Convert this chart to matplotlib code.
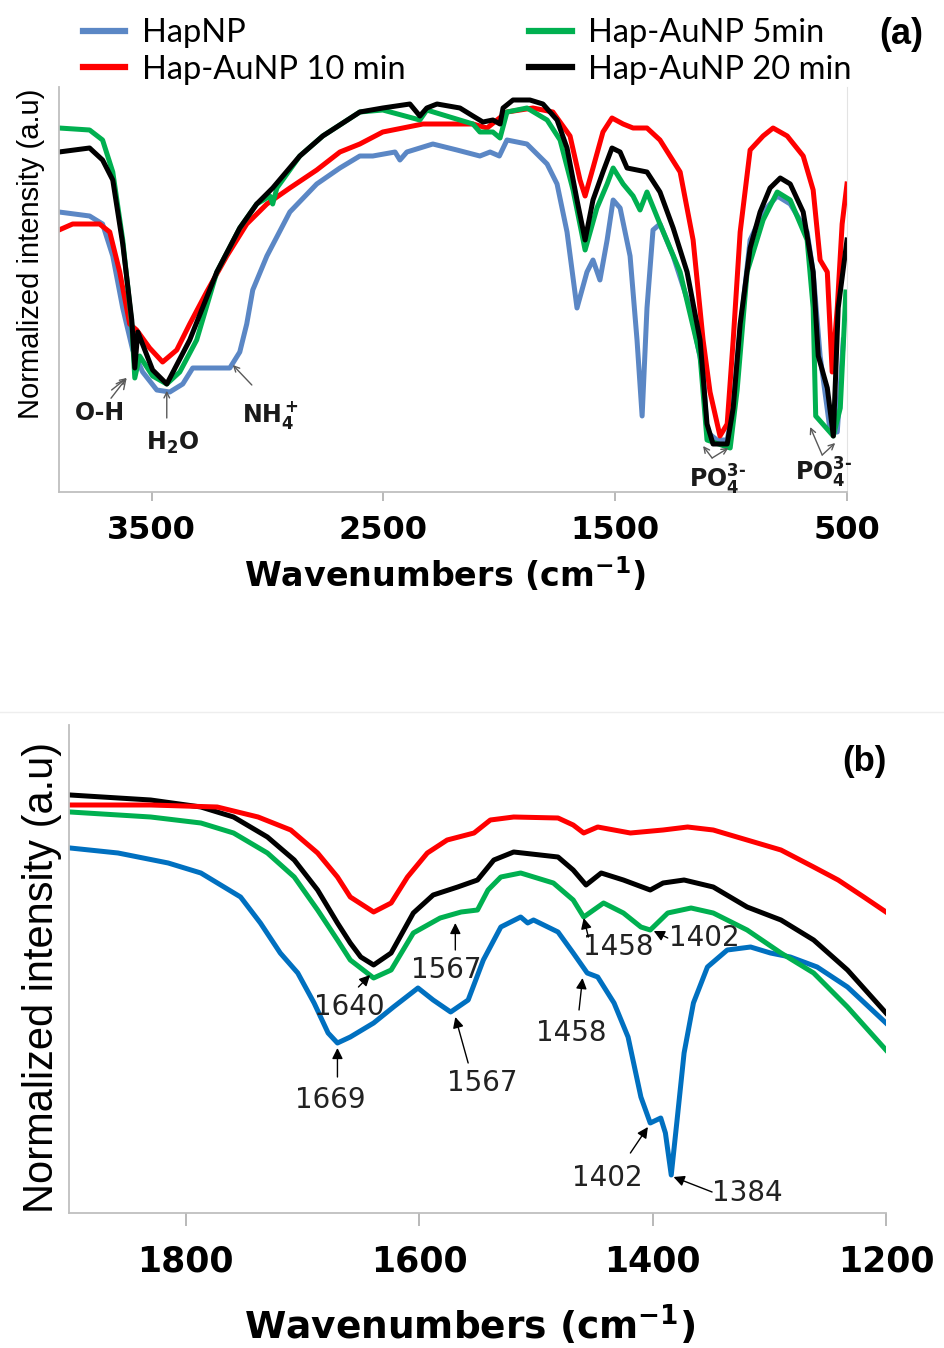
import numpy as np
import matplotlib
matplotlib.use("Agg")
import matplotlib.pyplot as plt
from matplotlib.lines import Line2D

plt.rcParams["font.family"] = ["DejaVu Sans"]
plt.rcParams["mathtext.default"] = "regular"

# ---- panel (a): full range FTIR spectra (wavenumber, normalized intensity a.u.)
hap_a_wn = [3900, 3768, 3712, 3668, 3625, 3582, 3539, 3478, 3422, 3366, 3323, 3237, 3163, 3120,
            3090, 3064, 3003, 2904, 2788, 2688, 2602, 2546, 2450, 2429, 2399, 2287, 2183, 2084,
            2040, 2000, 1967, 1881, 1794, 1751, 1708, 1665, 1622, 1596, 1566, 1535, 1509, 1479,
            1436, 1406, 1384, 1363, 1337, 1307, 1250, 1177, 1121, 1104, 1061, 1017, 991, 961,
            918, 862, 801, 745, 672, 646, 616, 572, 542, 516]
hap_a_I = [70, 69, 67, 59, 46, 35.5, 30, 25.5, 25, 27, 31, 31, 31, 35,
           42, 50.5, 59, 70, 77, 81, 84, 84, 85, 83, 85, 87, 85.5, 84,
           85, 84, 88, 87, 82, 77, 65, 46, 55, 58, 53, 63, 73, 71,
           59, 38, 19, 46, 65.5, 67, 59, 46, 30, 15, 13, 13, 21, 40.5,
           63, 70, 74, 72, 65, 55, 34, 15, 15, 38]

m5_a_wn = [3900, 3768, 3712, 3668, 3625, 3586, 3573, 3552, 3496, 3435, 3379, 3306, 3219, 3120,
           3047, 2990, 2978, 2960, 2861, 2762, 2602, 2503, 2343, 2313, 2114, 2084, 2028, 1997,
           1967, 1881, 1794, 1738, 1682, 1630, 1579, 1535, 1509, 1466, 1423, 1393, 1363, 1307,
           1220, 1134, 1104, 1004, 974, 931, 862, 801, 745, 672, 646, 635, 559, 529, 505]
m5_a_I = [91, 90.5, 88, 80, 63, 42, 28.5, 34, 29, 27, 30, 38, 55, 66,
          72, 74, 72, 76, 84, 89, 95, 95.5, 93, 95.5, 92, 90, 90, 88.5,
          95, 96, 93, 88, 75.5, 60.5, 71, 77, 81, 77, 74, 70.5, 75, 67,
          55, 34, 13, 11, 25.5, 55, 68, 75, 73, 63, 46, 19, 14, 21, 50]

m10_a_wn = [3900, 3841, 3725, 3681, 3638, 3595, 3565, 3509, 3453, 3392, 3336, 3263, 3176, 3090,
            3003, 2904, 2788, 2688, 2602, 2503, 2330, 2114, 2053, 1967, 1855, 1769, 1695, 1652,
            1630, 1596, 1553, 1514, 1466, 1423, 1363, 1307, 1220, 1164, 1121, 1091, 1048, 1017,
            991, 961, 918, 862, 819, 758, 689, 646, 616, 585, 564, 542, 521, 500]
m10_a_I = [65.5, 67, 67, 65, 55, 42, 40.5, 36, 32.5, 35.5, 42, 50, 59, 67,
           72, 76, 80.5, 85, 87, 90, 92, 92, 91, 95, 96, 95, 89, 78,
           74, 81, 90, 93.5, 92, 91, 91, 88, 80, 63, 38, 25, 14, 17,
           38, 65, 85.5, 89, 91, 89, 84, 75.5, 58, 55, 30, 46, 67, 77]

m20_a_wn = [3900, 3768, 3712, 3668, 3625, 3586, 3573, 3560, 3496, 3435, 3336, 3219, 3120, 3047,
            2978, 2861, 2762, 2602, 2503, 2386, 2343, 2313, 2269, 2170, 2114, 2071, 2028, 1997,
            1984, 1941, 1868, 1812, 1751, 1708, 1665, 1630, 1596, 1553, 1514, 1479, 1449, 1406,
            1363, 1307, 1250, 1190, 1134, 1104, 1078, 1017, 991, 961, 918, 875, 832, 788,
            745, 689, 646, 624, 585, 559, 538, 500]
m20_a_I = [85, 86, 83, 78, 62, 43, 31, 40, 30.5, 27, 38, 55, 66, 72,
           76, 84, 89, 95, 96, 97, 94, 96, 97, 96, 94, 92.5, 93, 92,
           96, 98, 98, 97, 93, 86, 73, 63, 73, 80, 86, 85, 81, 80.5,
           80, 75, 66, 55, 38, 17, 12, 12, 21, 42, 61, 70, 76, 78.5,
           77, 70, 55, 34, 26, 14, 46, 63]

# ---- panel (b): 1900-1200 cm-1 detail
hap_b_wn = [1899, 1858, 1815, 1787, 1770, 1753, 1736, 1719, 1704, 1690, 1678, 1670, 1659, 1639,
            1622, 1601, 1588, 1573, 1558, 1545, 1530, 1513, 1507, 1502, 1481, 1468, 1456, 1447,
            1433, 1421, 1410, 1402, 1393, 1389, 1384, 1379, 1373, 1365, 1353, 1336, 1316, 1299,
            1282, 1259, 1233, 1200]
hap_b_I = [73, 72, 70, 68, 65.6, 63.2, 58, 52, 48, 42, 36, 34, 35.2, 38,
           41.2, 45, 42.6, 40.2, 42.6, 50.6, 57.2, 59.2, 58, 58.6, 56.2, 52, 48, 47.2,
           42, 35.2, 23.2, 18, 19, 16, 7.6, 18.6, 32, 42, 49.2, 52.6, 53.2, 52,
           51.2, 49.2, 45.2, 38]

m5_b_wn = [1899, 1830, 1787, 1759, 1730, 1707, 1687, 1670, 1659, 1639, 1624, 1605, 1582, 1564,
           1550, 1541, 1530, 1513, 1485, 1468, 1459, 1442, 1425, 1410, 1402, 1387, 1367, 1348,
           1319, 1290, 1262, 1233, 1200]
m5_b_I = [80.2, 79.2, 78, 76, 72, 67.2, 60.6, 54.6, 50.6, 47, 48.6, 56, 59, 60.2,
          60.6, 64.6, 67.2, 68, 66, 62.6, 59.2, 62, 60, 57.2, 56.6, 60, 61, 60,
          56.6, 52, 48, 41.2, 32.6]

m10_b_wn = [1899, 1830, 1773, 1738, 1710, 1687, 1670, 1659, 1639, 1624, 1610, 1593, 1576, 1553,
            1539, 1519, 1481, 1468, 1459, 1447, 1419, 1391, 1370, 1348, 1319, 1290, 1262, 1241,
            1219, 1200]
m10_b_I = [81.6, 81.6, 81.2, 79.2, 76.6, 72, 67.2, 63.2, 60.2, 62, 67.2, 72, 74.6, 76,
           78.6, 79.2, 79, 77.6, 76, 77.2, 76, 76.6, 77.2, 76.6, 74.6, 72.6, 69.2, 66.6,
           63.2, 60.2]

m20_b_wn = [1899, 1830, 1787, 1759, 1730, 1707, 1687, 1670, 1659, 1650, 1639, 1624, 1605, 1588,
            1567, 1550, 1536, 1519, 1481, 1468, 1457, 1444, 1425, 1402, 1391, 1373, 1348, 1319,
            1290, 1262, 1233, 1200]
m20_b_I = [83.6, 82.6, 81.2, 79.2, 75.2, 70.6, 64.6, 58, 54, 51.2, 49.6, 52, 60, 63.6,
           65.2, 66.6, 70.6, 72.2, 71.2, 68.6, 65.6, 68, 66.6, 64.6, 66, 66.6, 65.2, 61.2,
           58.6, 54.6, 48.6, 40]

LABELS = ["HapNP", "Hap-AuNP 10 min", "Hap-AuNP 5min", "Hap-AuNP 20 min"]
RED, GREEN, BLACK = "#FF0000", "#00B050", "#000000"
BLUE_A, BLUE_B = "#5B87C5", "#0070C0"
SPINE = "#BFBFBF"
W, H = 945, 1348


def fx(px):
    return px / W


def fy(py):
    return 1 - py / H


def style_axis(ax, right=False):
    for s in ["top", "right"]:
        ax.spines[s].set_visible(False)
    if right:
        ax.spines["right"].set_visible(True)
        ax.spines["right"].set_color("#E3E3E3")
    for s in ["left", "bottom"]:
        ax.spines[s].set_color(SPINE)
        ax.spines[s].set_linewidth(1.3)
    ax.set_yticks([])


fig = plt.figure(figsize=(W / 100, H / 100), dpi=100)

# ---------------- panel (a)
ax = fig.add_axes([fx(59), fy(492), fx(847) - fx(59), fy(87) - fy(492)])
lw = 3.6
ax.plot(hap_a_wn, hap_a_I, color=BLUE_A, lw=lw, solid_joinstyle="round")
ax.plot(m10_a_wn, m10_a_I, color=RED, lw=lw, solid_joinstyle="round")
ax.plot(m5_a_wn, m5_a_I, color=GREEN, lw=lw, solid_joinstyle="round")
ax.plot(m20_a_wn, m20_a_I, color=BLACK, lw=lw, solid_joinstyle="round")
ax.set_xlim(3900, 500)
ax.set_ylim(0, 101.25)
style_axis(ax, right=True)
ax.set_xticks([3500, 2500, 1500, 500])
ax.tick_params(axis="x", direction="out", length=6.5, width=1.1, color="#A6A6A6", pad=10)
for t in ax.get_xticklabels():
    t.set_fontsize(23); t.set_fontweight("bold")

akw = dict(arrowstyle="->", color="#595959", lw=1.0, shrinkA=0, shrinkB=0)
tkw = dict(fontsize=17, fontweight="bold", ha="center", va="center", color="#1a1a1a")
ax.annotate("O-H", xy=(3608, 28.5), xytext=(3725, 19.75), arrowprops=akw, **tkw)
ax.annotate("", xy=(3608, 28.5), xytext=(3673, 25.5), arrowprops=akw)
ax.text(3409, 12.25, "H$_2$O", **tkw)
ax.annotate("", xy=(3435, 25.3), xytext=(3435, 18.5), arrowprops=akw)
ax.text(2990, 19.25, "NH$_4^+$", **tkw)
ax.annotate("", xy=(3150, 31.75), xytext=(3068, 26.75), arrowprops=akw)
ax.text(1060, 3.0, "PO$_4^{3\u2010}$", **tkw)
ax.annotate("", xy=(1121, 11.5), xytext=(1082, 8.5), arrowprops=akw)
ax.annotate("", xy=(1012, 11.0), xytext=(1082, 8.5), arrowprops=akw)
ax.text(603, 4.75, "PO$_4^{3\u2010}$", clip_on=False, **tkw)
ax.annotate("", xy=(659, 16.25), xytext=(607, 9.25), arrowprops=akw)
ax.annotate("", xy=(551, 12.25), xytext=(607, 9.25), arrowprops=akw)

handles = [Line2D([], [], color=c, lw=4.5) for c in [BLUE_A, RED, GREEN, BLACK]]
fig.legend(handles, LABELS, loc="upper left", bbox_to_anchor=(fx(83), fy(18)),
           ncol=2, frameon=False, borderpad=0, borderaxespad=0,
           handlelength=1.3, handletextpad=0.5, columnspacing=3.8, labelspacing=0.2,
           prop={"family": "Lato", "size": 23.5})

fig.text(fx(445), fy(575), "Wavenumbers (cm$^{-1}$)", fontsize=24, fontweight="bold",
         ha="center", va="center")
fig.text(fx(31), fy(254), "Normalized intensity (a.u)", rotation=90, fontsize=21,
         family="Liberation Sans", ha="center", va="center")
fig.text(fx(901), fy(35), "(a)", fontsize=26, fontweight="bold", family="Liberation Sans",
         ha="center", va="center")

# faint separator between panels
fig.add_artist(Line2D([0, 1], [fy(712), fy(712)], transform=fig.transFigure,
                      color="#EEEEEE", lw=1))

# ---------------- panel (b)
bx = fig.add_axes([fx(69), fy(1213), fx(886) - fx(69), fy(725) - fy(1213)])
lw = 3.6
bx.plot(hap_b_wn, hap_b_I, color=BLUE_B, lw=lw, solid_joinstyle="round")
bx.plot(m5_b_wn, m5_b_I, color=GREEN, lw=lw, solid_joinstyle="round")
bx.plot(m20_b_wn, m20_b_I, color=BLACK, lw=lw, solid_joinstyle="round")
bx.plot(m10_b_wn, m10_b_I, color=RED, lw=lw, solid_joinstyle="round")
bx.set_xlim(1900, 1200)
bx.set_ylim(0, 97.6)
style_axis(bx)
bx.set_xticks([1800, 1600, 1400, 1200])
bx.tick_params(axis="x", direction="out", length=9, width=1.1, color="#A6A6A6", pad=14)
for t in bx.get_xticklabels():
    t.set_fontsize(25); t.set_fontweight("bold")

bkw = dict(arrowstyle="-|>", color="black", lw=1.0, mutation_scale=16, shrinkA=0, shrinkB=0)
nkw = dict(fontsize=20, ha="center", va="center", color="#222222")
notes = [  # (label, text position, arrow tail, arrow head)
    ("1669", (1676, 22.6), (1670, 27.2), (1670, 33.0)),
    ("1640", (1660, 41.2), (1652, 45.2), (1642, 47.6)),
    ("1567", (1577, 48.6), (1569, 52.6), (1569, 58.0)),
    ("1567", (1546, 26.0), (1558, 30.0), (1569, 39.2)),
    ("1458", (1470, 36.0), (1463, 40.6), (1460, 47.0)),
    ("1458", (1429, 53.2), (1455, 55.2), (1459, 59.0)),
    ("1402", (1356, 55.0), (1387, 55.0), (1399, 56.4)),
    ("1402", (1439, 7.0), (1419, 12.0), (1404, 17.2)),
    ("1384", (1319, 4.0), (1349, 4.2), (1382, 7.2)),
]
for lab, tpos, tail, head in notes:
    bx.text(tpos[0], tpos[1], lab, **nkw)
    bx.annotate("", xy=head, xytext=tail, arrowprops=bkw)

fig.text(fx(470), fy(1325), "Wavenumbers (cm$^{-1}$)", fontsize=27, fontweight="bold",
         ha="center", va="center")
fig.text(fx(42), fy(977), "Normalized intensity (a.u)", rotation=90, fontsize=30,
         family="Liberation Sans", ha="center", va="center")
fig.text(fx(864), fy(762), "(b)", fontsize=25, fontweight="bold", family="Liberation Sans",
         ha="center", va="center")

fig.savefig("out.png", dpi=100)
